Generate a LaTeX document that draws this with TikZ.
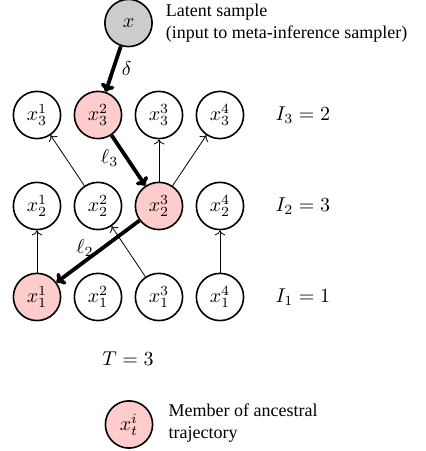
\documentclass[tikz,border=0pt]{standalone}
\usepackage{amsmath,amssymb}
\usepackage{fontspec}
\setmainfont{Liberation Serif}
\usepackage{tikz}
\usetikzlibrary{arrows.meta,positioning}
\definecolor{anc}{HTML}{FFCCCC}
\definecolor{lat}{HTML}{CCCCCC}

\begin{document}
\begin{tikzpicture}[
    particle/.style={circle,draw,thick,minimum size=0.83cm,inner sep=0pt},
    ancestor/.style={particle,fill=anc},
    parent/.style={->,thin},
    trace/.style={-{To[length=4pt,width=7pt]},line width=1.9pt}]
  \useasboundingbox (0,0) rectangle (7.469,-7.926);
  % latent sample
  \node[particle,fill=lat] (x) at (2.258,-0.404) {$x$};
  \node[anchor=west,align=left,font=\small] (xlab) at (2.79,-0.40) {Latent sample\\(input to meta-inference sampler)};
  % t = 3
  \node[particle] (x31) at (0.650,-2.021) {$x_3^1$};
  \node[ancestor] (x32) at (1.722,-2.021) {$x_3^2$};
  \node[particle] (x33) at (2.794,-2.021) {$x_3^3$};
  \node[particle] (x34) at (3.866,-2.021) {$x_3^4$};
  \node[anchor=west] (i3) at (4.72,-2.021) {$I_3 = 2$};
  % t = 2
  \node[particle] (x21) at (0.650,-3.620) {$x_2^1$};
  \node[particle] (x22) at (1.722,-3.620) {$x_2^2$};
  \node[ancestor] (x23) at (2.794,-3.620) {$x_2^3$};
  \node[particle] (x24) at (3.866,-3.620) {$x_2^4$};
  \node[anchor=west] (i2) at (4.72,-3.620) {$I_2 = 3$};
  % t = 1
  \node[ancestor] (x11) at (0.650,-5.219) {$x_1^1$};
  \node[particle] (x12) at (1.722,-5.219) {$x_1^2$};
  \node[particle] (x13) at (2.794,-5.219) {$x_1^3$};
  \node[particle] (x14) at (3.866,-5.219) {$x_1^4$};
  \node[anchor=west] (i1) at (4.72,-5.219) {$I_1 = 1$};
  % resampling
  \draw[parent] (x11) -- (x21);
  \draw[parent] (x13) -- (x22);
  \draw[parent] (x14) -- (x24);
  \draw[parent] (x22) -- (x31);
  \draw[parent] (x23) -- (x33);
  \draw[parent] (x23) -- (x34);
  % ancestral trajectory
  \draw[trace] (x) -- node[right]{$\delta$} (x32);
  \draw[trace] (x32) -- node[left,pos=0.45]{$\ell_3$} (x23);
  \draw[trace] (x23) -- node[left,pos=0.45]{$\ell_2$} (x11);
  \node (tlab) at (2.25,-6.31) {$T = 3$};
  % legend
  \node[ancestor] (key) at (2.267,-7.46) {$x_t^i$};
  \node[anchor=west,align=left,font=\small] (keylab) at (2.84,-7.43) {Member of ancestral\\trajectory};
\end{tikzpicture}
\end{document}
